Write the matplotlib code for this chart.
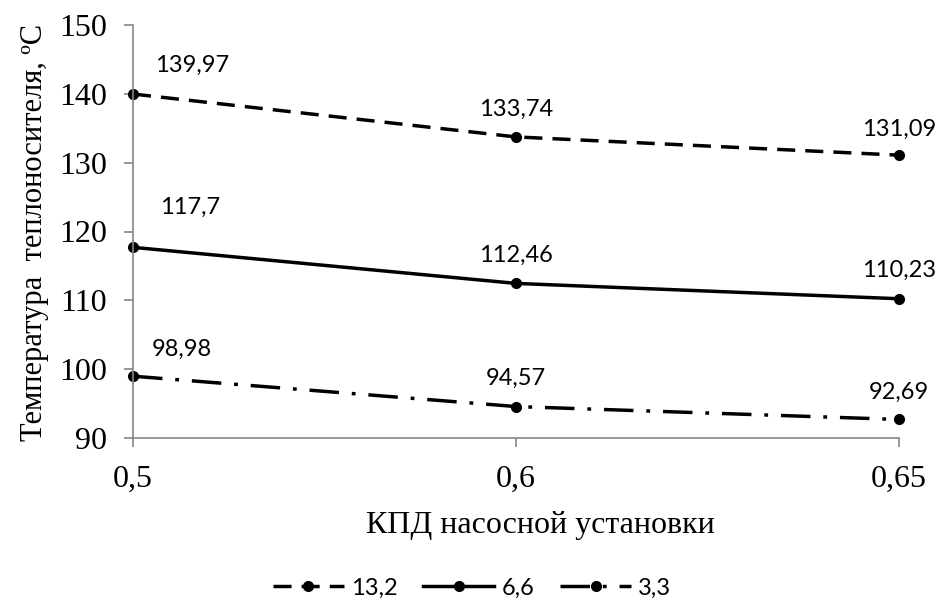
import matplotlib
matplotlib.use("Agg")
import matplotlib.pyplot as plt

categories = ["0,5", "0,6", "0,65"]
series_names = ["13,2", "6,6", "3,3"]
s_13_2 = [139.97, 133.74, 131.09]
s_6_6 = [117.7, 112.46, 110.23]
s_3_3 = [98.98, 94.57, 92.69]
series_values = [s_13_2, s_6_6, s_3_3]
y_ticks = [90, 100, 110, 120, 130, 140, 150]

dash_styles = [(0, (5.2, 2.9)), "-", (0, (8.5, 3.7, 1.1, 3.7))]
# label offsets in pixels per series / point
label_offsets = [
    [(59, 29), (0, 28), (0, 26)],
    [(57, 40), (0, 28), (0, 28)],
    [(49, 27), (0, 28), (0, 27)],
]

W, H = 942, 616
fig = plt.figure(figsize=(W / 100, H / 100), dpi=100)
ax = fig.add_axes([133 / W, 1 - 438 / H, (899 - 133) / W, (438 - 25) / H])

x = list(range(len(categories)))
gray = "#868686"
for name, vals, ls, offs in zip(series_names, series_values, dash_styles, label_offsets):
    ax.plot(x, vals, linestyle=ls, color="black", linewidth=2.5,
            marker="o", markersize=7, label=name, clip_on=False)
    for xi, v, (dx, dy) in zip(x, vals, offs):
        ax.annotate(f"{v:g}".replace(".", ","), (xi, v), xytext=(dx, dy),
                    textcoords="offset pixels", ha="center", va="center",
                    fontsize=17, family="Lato", color="black")

ax.set_xlim(0, len(categories) - 1)
ax.set_ylim(90, 150)
ax.set_yticks(y_ticks)
ax.set_xticks(x)
ax.set_xticklabels(categories)

for s in ["top", "right"]:
    ax.spines[s].set_visible(False)
for s in ["left", "bottom"]:
    ax.spines[s].set_color(gray)
    ax.spines[s].set_linewidth(1.2)

ax.tick_params(axis="y", direction="out", length=6.5, width=1.2, color=gray, pad=12,
               labelsize=23, labelfontfamily="Liberation Serif")
ax.tick_params(axis="x", direction="out", length=6.5, width=1.2, color=gray, pad=13,
               labelsize=23, labelfontfamily="Liberation Serif")

fig.text(540 / W, 1 - 526 / H, "КПД насосной установки", ha="center", va="center",
         fontsize=23, family="Liberation Serif")
fig.text(35 / W, 1 - 232 / H, "Температура  теплоносителя, ºC", rotation=90,
         ha="center", va="center", fontsize=22, family="Liberation Serif")

fig.legend(loc="center", bbox_to_anchor=(472 / W, 1 - 588 / H), ncol=3, frameon=False,
           prop={"family": "Lato", "size": 17}, handlelength=3.0, handletextpad=0.3,
           columnspacing=1.1)

fig.savefig("out.png", dpi=100)
